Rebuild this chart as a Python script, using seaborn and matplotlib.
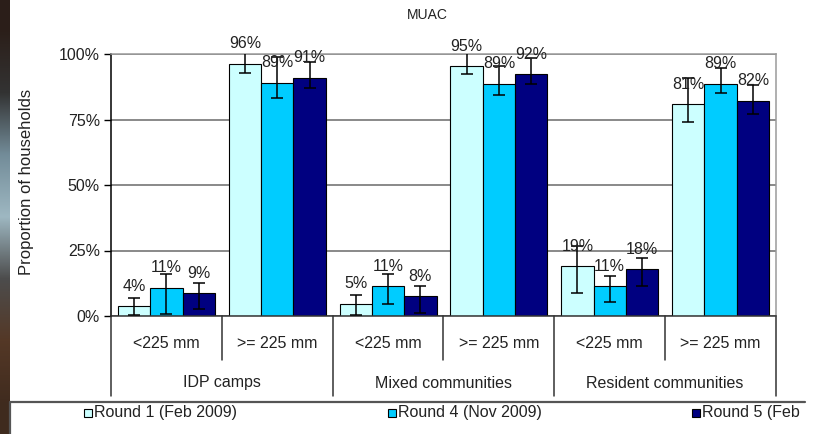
import matplotlib
matplotlib.use("Agg")
import matplotlib.pyplot as plt
from matplotlib.patches import Rectangle
from matplotlib.ticker import FuncFormatter
import numpy as np
import pandas as pd
import seaborn as sns

# data (percent of households)
groups = ["IDP camps", "Mixed communities", "Resident communities"]
muac_classes = ["<225 mm", ">= 225 mm"]
rounds = ["Round 1 (Feb 2009)", "Round 4 (Nov 2009)", "Round 5 (Feb 2010)"]
round_colors = ["#CCFFFF", "#00CCFF", "#000080"]

# order: IDP <225, IDP >=225, Mixed <225, Mixed >=225, Resident <225, Resident >=225
r1_vals = [3.8, 96.2, 4.6, 95.4, 19.0, 80.8]
r4_vals = [10.8, 89.1, 11.4, 88.7, 11.4, 88.7]
r5_vals = [8.6, 91.0, 7.6, 92.3, 17.8, 82.1]

# error bar extents below / above the bar top
r1_lo = [3.5, 3.3, 4.2, 3.0, 10.4, 6.6]
r1_hi = [3.2, 4.1, 3.4, 5.5, 7.6, 9.9]
r4_lo = [10.2, 6.0, 6.7, 4.5, 5.9, 3.7]
r4_hi = [5.1, 9.9, 4.5, 6.7, 3.8, 6.0]
r5_lo = [6.1, 4.1, 6.3, 3.7, 6.4, 4.9]
r5_hi = [4.1, 6.1, 3.8, 6.1, 4.4, 6.1]

round_vals = [r1_vals, r4_vals, r5_vals]
round_lo = [r1_lo, r4_lo, r5_lo]
round_hi = [r1_hi, r4_hi, r5_hi]

clusters = [f"{g}|{m}" for g in groups for m in muac_classes]
rows = []
for rnd, vals in zip(rounds, round_vals):
    for c, v in zip(clusters, vals):
        rows.append({"cluster": c, "round": rnd, "value": v})
df = pd.DataFrame(rows)

sns.set_style("white")
plt.rcParams["font.family"] = ["Liberation Sans", "DejaVu Sans"]
text_color = "#222222"

W, H = 818, 434
fig = plt.figure(figsize=(W / 100, H / 100), dpi=100)
fig.patch.set_facecolor("white")

# dark strip on the left edge of the screenshot
strip = fig.add_axes([0, 0, 10 / W, 1])
strip_cols = np.array([[0.17, 0.12, 0.10], [0.20, 0.20, 0.20], [0.45, 0.55, 0.60],
                       [0.62, 0.72, 0.76], [0.30, 0.30, 0.30], [0.33, 0.22, 0.15],
                       [0.25, 0.17, 0.12]])
strip.imshow(strip_cols[:, None, :], aspect="auto", interpolation="bilinear")
strip.axis("off")

ax = fig.add_axes([111 / W, 118 / H, 665 / W, 262 / H])

sns.barplot(data=df, x="cluster", y="value", hue="round", order=clusters,
            hue_order=rounds, palette=round_colors, saturation=1, width=0.875,
            gap=0, edgecolor="black", linewidth=0.8, errorbar=None,
            legend=False, ax=ax)

for cont, vals, lo, hi in zip(ax.containers, round_vals, round_lo, round_hi):
    xs = [b.get_x() + b.get_width() / 2 for b in cont]
    ax.errorbar(xs, vals, yerr=[lo, hi], fmt="none", ecolor="black",
                elinewidth=1.1, capsize=4, capthick=1.1, zorder=5)
    ax.bar_label(cont, labels=[f"{v:.0f}%" for v in vals], padding=9,
                 fontsize=11.5, color=text_color, zorder=6)

ax.set_ylim(0, 100)
ax.set_xlim(-0.5, len(clusters) - 0.5)
ax.set_yticks([0, 25, 50, 75, 100])
ax.yaxis.set_major_formatter(FuncFormatter(lambda v, _: f"{v:.0f}%"))
ax.tick_params(axis="y", left=True, length=5, width=1, color="black",
               labelsize=11.5, labelcolor=text_color, pad=3)
ax.set_xticks([])
ax.set_xlabel("")
ax.set_ylabel("")
ax.yaxis.grid(True, color="#808080", linewidth=1.3)
ax.set_axisbelow(True)

ax.spines["left"].set_color("black")
ax.spines["bottom"].set_color("#333333")
for s in ["top", "right"]:
    ax.spines[s].set_color("#9a9a9a")
for s in ax.spines.values():
    s.set_linewidth(1.1)

# category axis below the plot
trans = ax.get_xaxis_transform()
for x in [0.5, 2.5, 4.5]:
    ax.plot([x, x], [0, -44 / 262], transform=trans, color="#333333",
            lw=1.1, clip_on=False)
for x in [-0.5, 1.5, 3.5, 5.5]:
    ax.plot([x, x], [0, -80 / 262], transform=trans, color="#333333",
            lw=1.1, clip_on=False)
for i, c in enumerate(clusters):
    ax.text(i, -27 / 262, c.split("|")[1], transform=trans, ha="center",
            va="center", fontsize=11.5, color=text_color)
for i, g in enumerate(groups):
    ax.text(2 * i + 0.5, -67 / 262, g, transform=trans, ha="center",
            va="center", fontsize=11.5, color=text_color)

fig.text(427 / W, 1 - 15 / H, "MUAC", ha="center", va="center",
         fontsize=10, color=text_color)
fig.text(27 / W, 1 - 182 / H, "Proportion of households", rotation=90,
         ha="center", va="center", fontsize=12, color=text_color)

# legend box: the screenshot crops it at the right and bottom
legend_top = (434 - 402) / H
fig.add_artist(plt.Line2D([10 / W, 805 / W], [legend_top, legend_top],
                          transform=fig.transFigure, color="#555555", lw=1.6))
fig.add_artist(plt.Line2D([10 / W, 10 / W], [0, legend_top],
                          transform=fig.transFigure, color="#555555", lw=1.6))
clip_rect = Rectangle((0, 0), 805 / W, 1, transform=fig.transFigure)
for i, (rnd, col) in enumerate(zip(rounds, round_colors)):
    x0 = 84 + i * 304
    fig.patches.append(Rectangle((x0 / W, (434 - 417) / H), 8 / W, 8 / H,
                                 transform=fig.transFigure, facecolor=col,
                                 edgecolor="black", linewidth=0.8))
    t = fig.text((x0 + 10) / W, (434 - 413) / H, rnd, ha="left", va="center",
                 fontsize=11.5, color=text_color)
    t.set_clip_path(clip_rect)

plt.savefig("out.png", dpi=100)
plt.close()
